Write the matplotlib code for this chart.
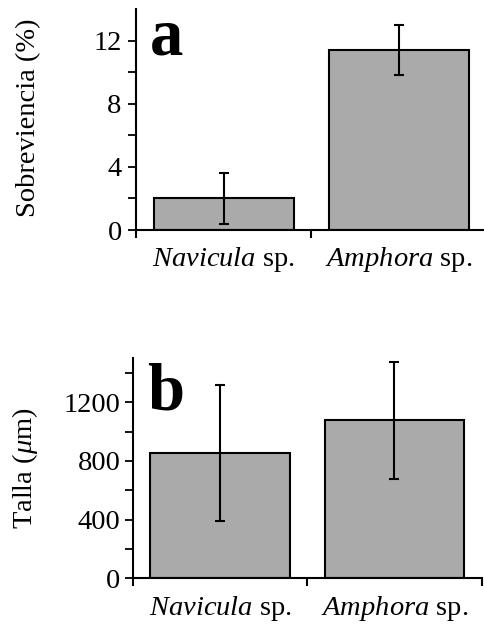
import matplotlib
matplotlib.use("Agg")
import matplotlib.pyplot as plt
from matplotlib.ticker import FixedLocator

plt.rcParams['font.family'] = ['Liberation Serif', 'DejaVu Serif']
plt.rcParams['mathtext.fontset'] = 'custom'
plt.rcParams['mathtext.rm'] = 'Liberation Serif'
plt.rcParams['mathtext.it'] = 'Liberation Serif:italic'
plt.rcParams['mathtext.bf'] = 'Liberation Serif:bold'

# Data
categories = [r"$\mathit{Navicula}$ sp.", r"$\mathit{Amphora}$ sp."]
surv_mean = [2.0, 11.4]
surv_err = [1.6, 1.6]
size_mean = [855, 1078]
size_err = [465, 400]

bar_color = "#aaaaaa"
fs = 20.5

fig = plt.figure(figsize=(4.84, 6.24), dpi=100)
ax1 = fig.add_axes([136/484, 1-230/624, 350/484, 221/624])
ax2 = fig.add_axes([132.7/484, 1-578.3/624, 349/484, 220/624])

def style(ax, means, errs, ylim, major, minor, letter, letter_y, pad):
    x = list(range(len(means)))
    ax.bar(x, means, width=0.8, color=bar_color, edgecolor='black', linewidth=1.5, zorder=2)
    ax.errorbar(x, means, yerr=errs, fmt='none', ecolor='black', elinewidth=1.5,
                capsize=3.5, capthick=1.5, zorder=3)
    ax.set_xlim(-0.5, len(means) - 0.5)
    ax.set_ylim(*ylim)
    for s in ['top', 'right']:
        ax.spines[s].set_visible(False)
    for s in ['left', 'bottom']:
        ax.spines[s].set_linewidth(1.5)
    ax.set_yticks(major)
    ax.yaxis.set_minor_locator(FixedLocator(minor))
    ax.tick_params(axis='y', which='both', direction='out', length=6, width=1.3,
                   labelsize=fs, pad=pad)
    ax.set_xticks(x)
    ax.set_xticklabels(categories, fontsize=fs)
    ax.tick_params(axis='x', which='major', length=0, pad=11)
    ax.xaxis.set_minor_locator(FixedLocator([i - 0.5 for i in range(len(means) + 1)]))
    ax.tick_params(axis='x', which='minor', direction='out', length=6, width=1.5)
    ax.text(-0.42, letter_y, letter, fontsize=48, fontweight='bold', va='baseline', ha='left')
    ax.patch.set_visible(False)

style(ax1, surv_mean, surv_err, (0, 14), [0, 4, 8, 12], [2, 6, 10], "a", 11.1, 4.3)
style(ax2, size_mean, size_err, (0, 1500), [0, 400, 800, 1200], [200, 600, 1000, 1400],
      "b", 1150, 2.7)

fig.text(29/484, 1-118/624, "Sobreviencia (%)", rotation=90, fontsize=fs, ha='center', va='center')
fig.text(25/484, 1-468/624, r"Talla ($\mu$m)", rotation=90, fontsize=fs, ha='center', va='center')

fig.savefig("out.png", dpi=100)
